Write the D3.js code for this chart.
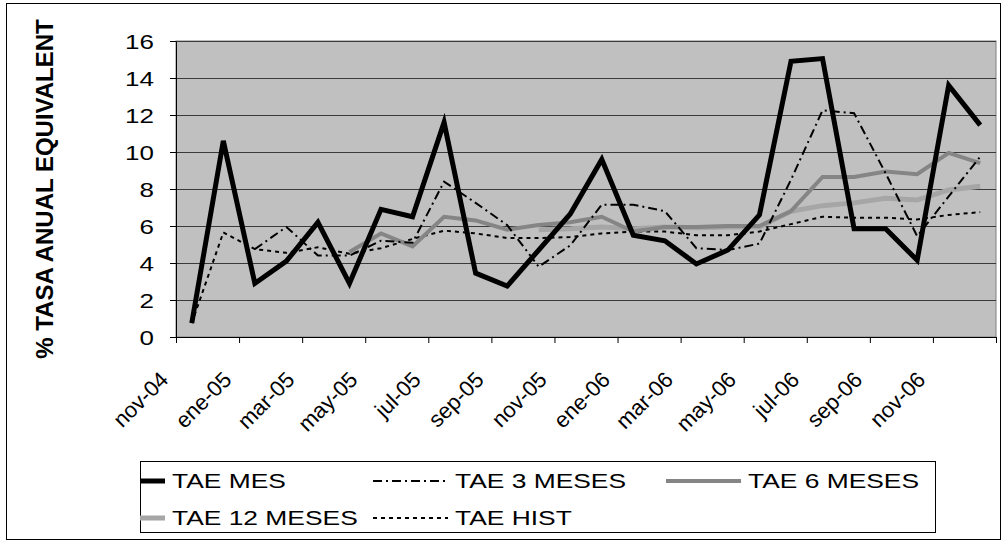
<!DOCTYPE html>
<html>
<head>
<meta charset="utf-8">
<script src="https://cdn.jsdelivr.net/npm/d3@7"></script>
<style>
body { margin: 0; background: #fff; }
svg { font-family: Arial, "Liberation Sans", sans-serif; }
</style>
</head>
<body>
<div id="d3"></div>
<script>
const months = ["nov-04", "dic-04", "ene-05", "feb-05", "mar-05", "abr-05", "may-05", "jun-05", "jul-05", "ago-05", "sep-05", "oct-05", "nov-05",
    "dic-05", "ene-06", "feb-06", "mar-06", "abr-06", "may-06", "jun-06", "jul-06", "ago-06", "sep-06", "oct-06", "nov-06", "dic-06"];

const tae_mes = [0.75, 10.6, 2.9, 4.1, 6.2, 2.9, 6.9, 6.5, 11.6, 3.45, 2.75, 4.7, 6.65, 9.6, 5.5, 5.2, 3.95, 4.7, 6.6, 14.9, 15.05, 5.85, 5.85, 4.15, 13.6, 11.45];
const tae_3m = [null, null, 4.75, 5.95, 4.4, 4.4, 5.2, 5.1, 8.4, 7.25, 6.05, 3.8, 4.95, 7.15, 7.15, 6.8, 4.8, 4.7, 5.05, 8.5, 12.25, 12.1, 8.85, 5.45, 7.6, 9.75];
const tae_6m = [null, null, null, null, null, 4.6, 5.6, 4.9, 6.5, 6.3, 5.8, 6.05, 6.2, 6.5, 5.7, 5.95, 5.95, 6.0, 6.0, 6.8, 8.65, 8.65, 8.95, 8.8, 9.95, 9.4];
const tae_12m = [null, null, null, null, null, null, null, null, null, null, null, 5.8, 5.85, 5.95, 5.85, 5.95, 5.9, 5.95, 5.95, 6.8, 7.1, 7.25, 7.5, 7.4, 7.95, 8.15];
const tae_hist = [0.75, 5.65, 4.75, 4.55, 4.85, 4.5, 4.8, 5.3, 5.75, 5.6, 5.35, 5.35, 5.4, 5.6, 5.7, 5.7, 5.5, 5.5, 5.7, 6.1, 6.5, 6.45, 6.45, 6.35, 6.6, 6.75];

const y_ticks = [0, 2, 4, 6, 8, 10, 12, 14, 16];
const y_title = "% TASA ANUAL EQUIVALENT";

const series = [
    { name: "TAE MES", values: tae_mes, color: "#000", width: 5, dash: null },
    { name: "TAE 3 MESES", values: tae_3m, color: "#000", width: 2, dash: "9,4,2,4" },
    { name: "TAE 6 MESES", values: tae_6m, color: "#858585", width: 4, dash: null },
    { name: "TAE 12 MESES", values: tae_12m, color: "#a6a6a6", width: 5, dash: null },
    { name: "TAE HIST", values: tae_hist, color: "#000", width: 2, dash: "4,4" },
];

const width = 1005, height = 544;
const plot = { left: 176, right: 996, top: 41, bottom: 337 };
const stretch = 1.3;

const svg = d3.select("#d3").append("svg").attr("width", width).attr("height", height);

// outer frame
svg.append("rect").attr("x", 6.5).attr("y", 3.5).attr("width", 994).attr("height", 536)
    .attr("fill", "#fff").attr("stroke", "#000");

const x = d3.scaleBand().domain(months).range([plot.left, plot.right]).padding(0);
const xEdge = d3.scaleLinear().domain([0, months.length]).range([plot.left, plot.right]);
const y = d3.scaleLinear().domain([0, 16]).range([plot.bottom, plot.top]);

svg.append("rect").attr("x", plot.left).attr("y", plot.top)
    .attr("width", plot.right - plot.left).attr("height", plot.bottom - plot.top)
    .attr("fill", "#c0c0c0").attr("stroke", "#808080");

// grid
svg.append("g").selectAll("line").data(y_ticks.filter(d => d > 0)).enter().append("line")
    .attr("x1", plot.left).attr("x2", plot.right)
    .attr("y1", d => Math.round(y(d)) + 0.5).attr("y2", d => Math.round(y(d)) + 0.5)
    .attr("stroke", "#3a3a3a").attr("stroke-width", 1);

// y axis
const yAxis = svg.append("g").attr("transform", `translate(${plot.left},0)`)
    .call(d3.axisLeft(y).tickValues(y_ticks).tickSize(6).tickSizeOuter(0).tickPadding(16));
yAxis.select(".domain").attr("stroke", "#000");
yAxis.selectAll("text").attr("font-size", 20).attr("fill", "#000").attr("font-family", "Arial, 'Liberation Sans'")
    .attr("dy", "0.36em")
    .attr("transform", function () { const xx = +d3.select(this).attr("x"); return `translate(${xx * (1 - stretch)},0) scale(${stretch},1)`; });

// x axis
const xAxis = svg.append("g").attr("transform", `translate(0,${plot.bottom})`)
    .call(d3.axisBottom(xEdge).tickValues(d3.range(0, months.length + 1, 2)).tickSize(6).tickSizeOuter(0).tickFormat(""));
xAxis.select(".domain").attr("stroke", "#000");

svg.append("g").selectAll("text").data(months.filter((m, i) => i % 2 === 0)).enter().append("text")
    .attr("transform", d => `translate(${x(d) + x.bandwidth() / 2 - 22},${plot.bottom + 44}) rotate(-45)`)
    .attr("text-anchor", "end").attr("font-size", 22).text(d => d);

// y title
svg.append("text").attr("transform", `translate(53,${(plot.top + plot.bottom) / 2}) rotate(-90)`)
    .attr("text-anchor", "middle").attr("font-weight", "bold").attr("font-size", 24).text(y_title);

// lines
const line = d3.line().defined(d => d != null)
    .x((d, i) => x(months[i]) + x.bandwidth() / 2).y(d => y(d));

const drawOrder = [4, 3, 2, 1, 0];
svg.append("g").selectAll("path").data(drawOrder.map(i => series[i])).enter().append("path")
    .attr("d", s => line(s.values))
    .attr("fill", "none").attr("stroke", s => s.color).attr("stroke-width", s => s.width)
    .attr("stroke-dasharray", s => s.dash).attr("stroke-linejoin", "miter");

// legend (first column is clipped by the box, as in the original)
const box = { x: 140, y: 461, w: 795, h: 71 };
svg.append("clipPath").attr("id", "legclip").append("rect")
    .attr("x", box.x).attr("y", box.y).attr("width", box.w).attr("height", box.h);
svg.append("rect").attr("x", box.x + 0.5).attr("y", box.y + 0.5).attr("width", box.w).attr("height", box.h)
    .attr("fill", "#fff").attr("stroke", "#000");
const legend = svg.append("g").attr("clip-path", "url(#legclip)");
const legCols = [172, 455, 748];
const legRows = [481, 518];
series.forEach((s, i) => {
    const tx = legCols[i % 3], cy = legRows[Math.floor(i / 3)];
    legend.append("line").attr("x1", tx - 82).attr("x2", tx - 7).attr("y1", cy).attr("y2", cy)
        .attr("stroke", s.color).attr("stroke-width", s.width).attr("stroke-dasharray", s.dash);
    legend.append("text").attr("transform", `translate(${tx},${cy + 7}) scale(1.32,1)`)
        .attr("font-size", 20).text(s.name);
});
</script>
</body>
</html>
